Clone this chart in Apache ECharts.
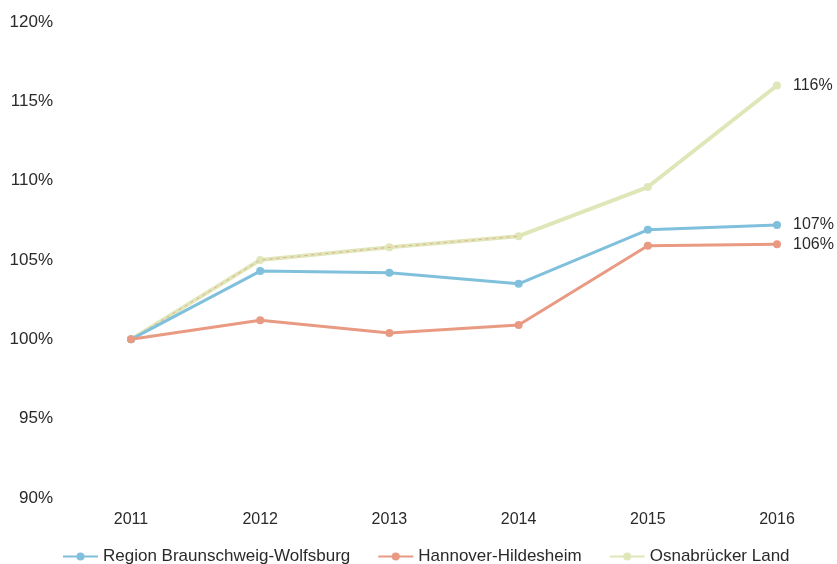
<!DOCTYPE html>
<html>
<head>
<meta charset="utf-8">
<script src="https://cdn.jsdelivr.net/npm/echarts@6/dist/echarts.min.js"></script>
<style>html,body{margin:0;padding:0;background:#fff}#c{width:837px;height:564px}</style>
</head>
<body>
<div id="c"></div>
<script>
const years = ['2011', '2012', '2013', '2014', '2015', '2016'];
const braunschweig = [100, 104.3, 104.2, 103.5, 106.9, 107.2];
const hannover = [100, 101.2, 100.4, 100.9, 105.9, 106.0];
const osnabrueck = [100, 105.0, 105.8, 106.5, 109.6, 116.0];
const seriesNames = ['Region Braunschweig-Wolfsburg', 'Hannover-Hildesheim', 'Osnabrücker Land'];
const yTicks = { min: 90, max: 120, step: 5 };

const font = 'Liberation Sans, Arial, sans-serif';
const textColor = '#2a2a2a';
const colors = ['#80c0dc', '#e99a83', '#dfe7b8'];

function endLabel(params) {
  return params.dataIndex === years.length - 1 ? Math.round(params.value) + '%' : '';
}

function mk(name, data, color, width, z) {
  return {
    name: name, type: 'line', data: data, z: z,
    symbol: 'circle', symbolSize: 8,
    lineStyle: { color: color, width: width },
    itemStyle: { color: color },
    label: { show: true, position: 'right', distance: 12, formatter: endLabel,
      color: textColor, fontFamily: font, fontSize: 16 }
  };
}

const chart = echarts.init(document.getElementById('c'), null, { renderer: 'canvas' });
chart.setOption({
  animation: false,
  backgroundColor: '#ffffff',
  grid: { left: 131, right: 60, top: 22, bottom: 66 },
  xAxis: {
    type: 'category', data: years, boundaryGap: false,
    axisLine: { show: false }, axisTick: { show: false },
    axisLabel: { color: textColor, fontFamily: font, fontSize: 16, margin: 14 },
    splitLine: { show: false }
  },
  yAxis: {
    type: 'value', min: yTicks.min, max: yTicks.max, interval: yTicks.step,
    axisLine: { show: false }, axisTick: { show: false }, splitLine: { show: false },
    axisLabel: { formatter: '{value}%', color: textColor, fontFamily: font, fontSize: 17, margin: 78 }
  },
  legend: {
    top: 543, left: 57, itemWidth: 35, itemHeight: 10, itemGap: 27,
    textStyle: { color: textColor, fontFamily: font, fontSize: 17 },
    data: seriesNames
  },
  series: [
    mk(seriesNames[0], braunschweig, colors[0], 3, 3),
    mk(seriesNames[1], hannover, colors[1], 3, 4),
    mk(seriesNames[2], osnabrueck, colors[2], 4, 2),
    {
      name: 'overlay', type: 'line', data: osnabrueck.slice(0, 4), z: 2.5, silent: true,
      symbol: 'none', lineStyle: { color: '#e99a83', width: 1, type: [3, 4], opacity: 0.8 }
    }
  ]
});
</script>
</body>
</html>
